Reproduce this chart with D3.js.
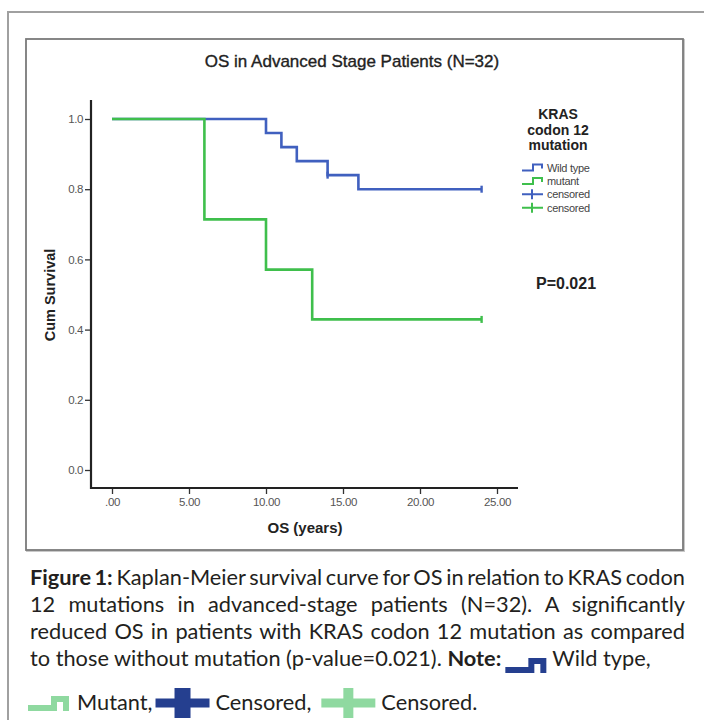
<!DOCTYPE html>
<html>
<head>
<meta charset="utf-8">
<script src="https://cdn.jsdelivr.net/npm/d3@7.9.0/dist/d3.min.js"></script>
<style>
  html, body { margin: 0; padding: 0; background: #fff; }
  svg { display: block; }
</style>
</head>
<body>
<svg id="fig" width="704" height="720"></svg>
<script>
// KM steps
var wildTimes = [0, 10, 11, 12, 14, 16, 24]
var wildSurv = [1.0, 0.96, 0.92, 0.88, 0.84, 0.80, 0.80]
var mutTimes = [0, 6, 10, 13, 24]
var mutSurv = [1.0, 0.714, 0.571, 0.429, 0.429]
var wildCensorTimes = [14, 24]
var wildCensorSurv = [0.84, 0.80]
var mutCensorTimes = [24]
var mutCensorSurv = [0.429]

var xTicks = [0, 5, 10, 15, 20, 25]
var xTickLabels = ['.00', '5.00', '10.00', '15.00', '20.00', '25.00']
var yTicks = [0, 0.2, 0.4, 0.6, 0.8, 1.0]
var yTickLabels = ['0.0', '0.2', '0.4', '0.6', '0.8', '1.0']

var legendTitle = ['KRAS', 'codon 12', 'mutation']
var legendLabels = ['Wild type', 'mutant', 'censored', 'censored']

var BLUE = '#4060bf'
var GREEN = '#3fbf4c'
var CAP_BLUE = '#253f8f'
var CAP_GREEN = '#8fd9a0'
var AX = "'Liberation Sans', Arial, sans-serif"
var CAP = "Lato, 'Open Sans', sans-serif"

var svg = d3.select('#fig')

// frames
svg.append('rect').attr('x', 8).attr('y', 12).attr('width', 800).attr('height', 800)
    .attr('fill', 'none').attr('stroke', '#a0a0a0').attr('stroke-width', 2)
svg.append('rect').attr('x', 27).attr('y', 40).attr('width', 657).attr('height', 511)
    .attr('fill', 'none').attr('stroke', '#c8c8c8').attr('stroke-width', 2)
svg.append('rect').attr('x', 26).attr('y', 39).attr('width', 657).attr('height', 511)
    .attr('fill', '#fff').attr('stroke', '#7a7a7a').attr('stroke-width', 1.8)

var x = d3.scaleLinear().domain([0, 25]).range([112, 497])
var y = d3.scaleLinear().domain([0, 1]).range([470, 119])

svg.append('text').attr('x', 352).attr('y', 67).attr('text-anchor', 'middle')
    .attr('font-family', AX).attr('font-size', 17).attr('fill', '#222')
    .attr('stroke', '#222').attr('stroke-width', 0.35)
    .text('OS in Advanced Stage Patients (N=32)')

// axes
var gy = svg.append('g').attr('transform', 'translate(91,0)')
    .call(d3.axisLeft(y).tickValues(yTicks).tickSize(6).tickPadding(2)
        .tickFormat(function (d, i) { return yTickLabels[i] }))
var gx = svg.append('g').attr('transform', 'translate(0,488)')
    .call(d3.axisBottom(x).tickValues(xTicks).tickSize(6).tickPadding(4)
        .tickFormat(function (d, i) { return xTickLabels[i] }))
;[gx, gy].forEach(function (g) {
    g.select('.domain').remove()
    g.selectAll('.tick line').attr('stroke', '#333').attr('stroke-width', 1.3)
    g.selectAll('.tick text').attr('fill', '#555').attr('font-family', AX).attr('font-size', 11.5)
        .attr('letter-spacing', -0.4)
})
svg.append('path').attr('d', 'M91,100V488H518').attr('fill', 'none')
    .attr('stroke', '#222').attr('stroke-width', 2.2)

svg.append('text').attr('transform', 'translate(55,295) rotate(-90)').attr('text-anchor', 'middle')
    .attr('font-family', AX).attr('font-weight', 'bold').attr('font-size', 14.5).attr('fill', '#222')
    .text('Cum Survival')
svg.append('text').attr('x', 305).attr('y', 533).attr('text-anchor', 'middle')
    .attr('font-family', AX).attr('font-weight', 'bold').attr('font-size', 15).attr('fill', '#222')
    .text('OS (years)')

// curves
var line = d3.line().curve(d3.curveStepAfter)
    .x(function (d) { return x(d[0]) }).y(function (d) { return y(d[1]) })

function curve(times, surv, color) {
    svg.append('path').datum(d3.zip(times, surv)).attr('d', line)
        .attr('fill', 'none').attr('stroke', color).attr('stroke-width', 2.6)
}
function censor(times, surv, color) {
    svg.selectAll(null).data(d3.zip(times, surv)).join('line')
        .attr('x1', function (d) { return x(d[0]) }).attr('x2', function (d) { return x(d[0]) })
        .attr('y1', function (d) { return y(d[1]) - 3.5 }).attr('y2', function (d) { return y(d[1]) + 3.5 })
        .attr('stroke', color).attr('stroke-width', 2.4)
}
curve(wildTimes, wildSurv, BLUE)
curve(mutTimes, mutSurv, GREEN)
censor(wildCensorTimes, wildCensorSurv, BLUE)
censor(mutCensorTimes, mutCensorSurv, GREEN)

// legend
legendTitle.forEach(function (t, i) {
    svg.append('text').attr('x', 558).attr('y', 119 + i * 15.5).attr('text-anchor', 'middle')
        .attr('font-family', AX).attr('font-weight', 'bold').attr('font-size', 14).attr('fill', '#222')
        .text(t)
})
var legColors = [BLUE, GREEN, BLUE, GREEN]
legendLabels.forEach(function (t, i) {
    var cy = 167.5 + i * 13.4
    var c = legColors[i]
    if (i < 2) {
        svg.append('path').attr('d', 'M522,' + (cy + 3) + 'H533V' + (cy - 3) + 'H542V' + (cy + 1))
            .attr('fill', 'none').attr('stroke', c).attr('stroke-width', 2)
    } else {
        svg.append('path').attr('d', 'M522,' + cy + 'H543M532,' + (cy - 5) + 'V' + (cy + 5))
            .attr('fill', 'none').attr('stroke', c).attr('stroke-width', 2)
    }
    svg.append('text').attr('x', 547).attr('y', cy + 4).attr('font-family', AX)
        .attr('font-size', 11).attr('fill', '#444').attr('letter-spacing', -0.3).text(t)
})
svg.append('text').attr('x', 566).attr('y', 289).attr('text-anchor', 'middle')
    .attr('font-family', AX).attr('font-weight', 'bold').attr('font-size', 16).attr('fill', '#222')
    .text('P=0.021')

// caption
var capLeft = 30, capRight = 685
var probe = svg.append('text').attr('font-family', CAP).attr('font-size', 20)
    .text('to those without mutation (p-value=0.021).')
var fs = 20 * 412 / probe.node().getComputedTextLength()
probe.remove()

function capText(xx, yy, parts) {
    var t = svg.append('text').attr('x', xx).attr('y', yy).attr('font-family', CAP)
        .attr('font-size', fs).attr('fill', '#231f20')
    parts.forEach(function (p) {
        t.append('tspan').attr('font-weight', p.b ? 'bold' : 'normal').text(p.t)
    })
    return t
}
function justified(yy, parts) {
    var t = capText(capLeft, yy, parts)
    var w = t.node().getComputedTextLength()
    var n = parts.map(function (p) { return p.t }).join('').split(' ').length - 1
    t.attr('word-spacing', (capRight - capLeft - w) / n)
}
justified(585, [{ t: 'Figure 1:', b: true }, { t: ' Kaplan-Meier survival curve for OS in relation to KRAS codon' }])
justified(612, [{ t: '12 mutations in advanced-stage patients (N=32). A significantly' }])
justified(639, [{ t: 'reduced OS in patients with KRAS codon 12 mutation as compared' }])

function stepIcon(xx, base, color) {
    svg.append('path')
        .attr('d', 'M' + xx + ',' + (base - 3) + 'H' + (xx + 26) + 'V' + (base - 12) + 'H' + (xx + 38) + 'V' + base)
        .attr('fill', 'none').attr('stroke', color).attr('stroke-width', 6).attr('stroke-linejoin', 'miter')
    return xx + 41
}
function plusIcon(xx, cy, color, vw) {
    svg.append('rect').attr('x', xx).attr('y', cy - 4.5).attr('width', 54).attr('height', 9).attr('fill', color)
    svg.append('rect').attr('x', xx + 27 - vw / 2).attr('y', cy - 15).attr('width', vw).attr('height', 30).attr('fill', color)
    return xx + 54
}
var t4 = capText(capLeft, 666, [{ t: 'to those without mutation (p-value=0.021). ' }, { t: 'Note:', b: true }])
var cx = capLeft + t4.node().getComputedTextLength() + 4
cx = stepIcon(cx, 673, CAP_BLUE)
capText(cx + 6, 666, [{ t: 'Wild type,' }])

var cx5 = stepIcon(28, 711, CAP_GREEN)
var tm = capText(cx5 + 8, 710, [{ t: 'Mutant,' }])
cx5 = cx5 + 8 + tm.node().getComputedTextLength() + 3
cx5 = plusIcon(cx5, 703, CAP_BLUE, 16)
var tc = capText(cx5 + 6, 710, [{ t: 'Censored,' }])
cx5 = cx5 + 6 + tc.node().getComputedTextLength() + 10
cx5 = plusIcon(cx5, 703, CAP_GREEN, 10)
capText(cx5 + 6, 710, [{ t: 'Censored.' }])
</script>
</body>
</html>
